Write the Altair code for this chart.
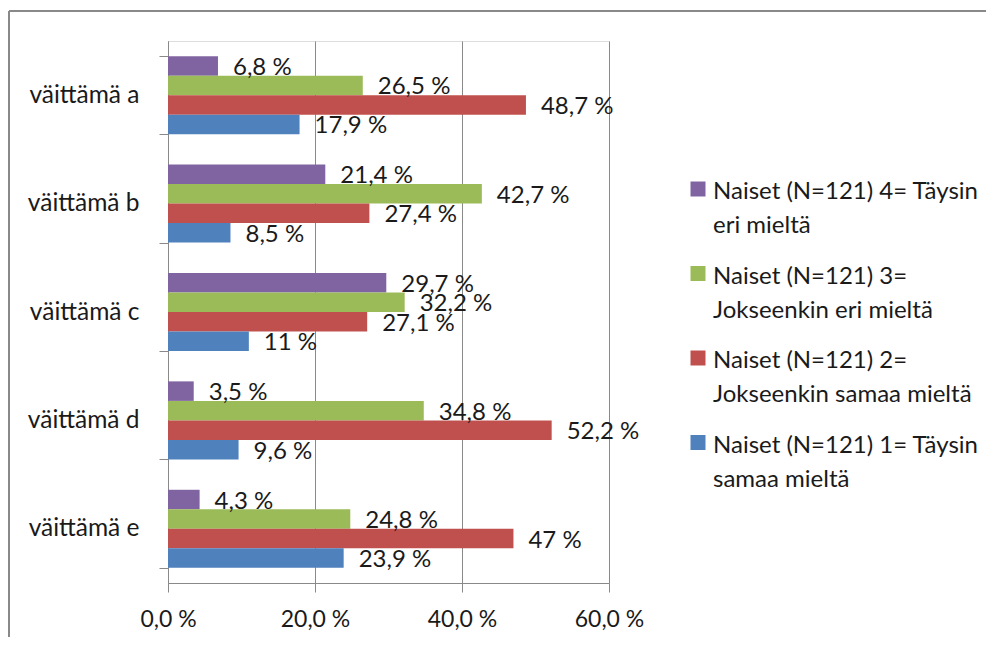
import altair as alt
import pandas as pd

categories = ["väittämä a", "väittämä b", "väittämä c", "väittämä d", "väittämä e"]
series = [
    "Naiset (N=121) 4= Täysin\neri mieltä",
    "Naiset (N=121) 3=\nJokseenkin eri mieltä",
    "Naiset (N=121) 2=\nJokseenkin samaa mieltä",
    "Naiset (N=121) 1= Täysin\nsamaa mieltä",
]
s4 = [6.8, 21.4, 29.7, 3.5, 4.3]
s3 = [26.5, 42.7, 32.2, 34.8, 24.8]
s2 = [48.7, 27.4, 27.1, 52.2, 47.0]
s1 = [17.9, 8.5, 11.0, 9.6, 23.9]
colors = ["#8064A2", "#9BBB59", "#C0504D", "#4F81BD"]
x_ticks = [0, 20, 40, 60]

rows = []
for name, vals in zip(series, [s4, s3, s2, s1]):
    for c, v in zip(categories, vals):
        rows.append({"cat": c, "series": name, "value": v})
df = pd.DataFrame(rows)

FONT = "Lato"
FS = 24
GRAY = "#898989"
TXT = "#1a1a1a"

y_enc = alt.Y(
    "cat:N", sort=categories, title=None,
    scale=alt.Scale(paddingInner=0.28, paddingOuter=0.14),
    axis=alt.Axis(tickBand="extent", tickSize=9, tickColor=GRAY, domainColor=GRAY,
                  labelPadding=20, labelFontSize=24.5, labelFont=FONT, labelColor=TXT,
                  grid=False, labelLimit=0),
)
yoff_enc = alt.YOffset("series:N", sort=series, scale=alt.Scale(domain=series, paddingInner=0, paddingOuter=0))
x_enc = alt.X(
    "value:Q", title=None, scale=alt.Scale(domain=[0, 60], nice=False),
    axis=alt.Axis(values=x_ticks, tickSize=9, tickColor=GRAY, domainColor=GRAY,
                  gridColor=GRAY, grid=True, labelPadding=16, labelFontSize=23, labelFont=FONT,
                  labelColor=TXT, labelFlush=False,
                  labelExpr="replace(format(datum.value, '.1f'), '.', ',') + ' %'"),
)

bars = alt.Chart(df).mark_bar().encode(
    y=y_enc, yOffset=yoff_enc, x=x_enc,
    color=alt.Color(
        "series:N", sort=series,
        scale=alt.Scale(domain=series, range=colors),
        legend=alt.Legend(
            title=None, orient="none", legendX=518, legendY=127,
            symbolType="M-1,0.2H1V2.2H-1Z", symbolSize=225, symbolStrokeWidth=0,
            labelFontSize=FS, labelFont=FONT, labelColor=TXT, labelLimit=0,
            labelBaseline="top", rowPadding=14.5, labelOffset=3,
            labelExpr="split(datum.label, '\\n')",
        ),
    ),
)

labels = alt.Chart(df).transform_calculate(
    txt="replace(toString(datum.value), '.', ',') + ' %'"
).mark_text(align="left", baseline="middle", dx=15, dy=2, fontSize=FS, font=FONT, color=TXT).encode(
    y=alt.Y("cat:N", sort=categories), yOffset=alt.YOffset("series:N", sort=series), x="value:Q",
    text="txt:N",
)

frame_df = pd.DataFrame({"k": [0]})
top_line = alt.Chart(frame_df).mark_rule(color=GRAY, strokeWidth=2).encode(
    x=alt.value(-159), x2=alt.value(900), y=alt.value(-30)
)
left_line = alt.Chart(frame_df).mark_rule(color=GRAY, strokeWidth=2).encode(
    x=alt.value(-159), y=alt.value(-30), y2=alt.value(700)
)

chart = alt.layer(bars, labels, top_line, left_line).properties(
    width=441, height=542,
    padding={"left": 160, "top": 33, "right": 377, "bottom": 54},
    autosize=alt.AutoSizeParams(type="none"),
).configure_view(strokeWidth=0).configure(style={"guide-label": {"lineHeight": 34}})

chart.save("out.html", embed_options={"renderer": "svg", "actions": False})
